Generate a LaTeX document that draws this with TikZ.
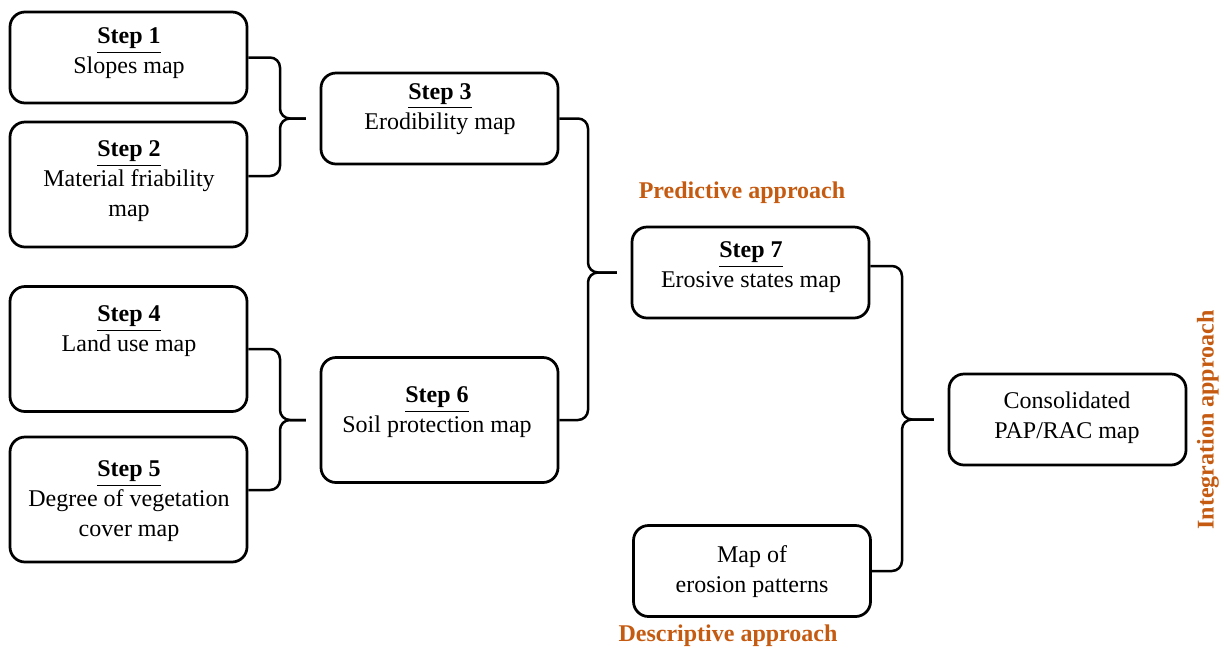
\documentclass[tikz,border=0pt]{standalone}
\usepackage{fontspec}
\setmainfont{Liberation Serif}
\definecolor{approach}{HTML}{C55A11}
\newcommand{\stepname}[1]{\underline{\textbf{#1}}}
\begin{document}
\begin{tikzpicture}[x=0.4pt, y=-0.4pt,
    box/.style={draw, line width=1.1pt, rounded corners=6pt, minimum width=94.8pt, minimum height=36.4pt},
    tallbox/.style={box, minimum height=50pt},
    boxtext/.style={align=center, inner sep=0pt, yshift=-1.2pt, font=\fontsize{9.6}{12}\selectfont},
    approachtext/.style={text=approach, font=\fontsize{9.6}{12}\selectfont\bfseries},
    bracket/.style={line width=1pt, rounded corners=4pt, shorten >=5.5pt}]
    \useasboundingbox (0,0) rectangle (1224,648);

    % Boxes
    \node[box] (s1) at (128.5,57.5) {};
    \node[tallbox] (s2) at (128.5,184.5) {};
    \node[box] (s3) at (439.5,118.5) {};
    \node[tallbox] (s4) at (128.5,349) {};
    \node[tallbox] (s5) at (128.5,499.5) {};
    \node[tallbox] (s6) at (439.5,420) {};
    \node[box] (s7) at (750.5,272.5) {};
    \node[box] (ep) at (752,571) {};
    \node[box] (pap) at (1067.5,419.5) {};

    % Texts in the boxes
    \node[boxtext] (s1t) at (129,50) {\stepname{Step 1}\\Slopes map};
    \node[boxtext] (s2t) at (129,178) {\stepname{Step 2}\\Material friability\\map};
    \node[boxtext] (s3t) at (440,106) {\stepname{Step 3}\\Erodibility map};
    \node[boxtext] (s4t) at (129,328) {\stepname{Step 4}\\Land use map};
    \node[boxtext] (s5t) at (129,498) {\stepname{Step 5}\\Degree of vegetation\\cover map};
    \node[boxtext] (s6t) at (437,409) {\stepname{Step 6}\\Soil protection map};
    \node[boxtext] (s7t) at (751,264.5) {\stepname{Step 7}\\Erosive states map};
    \node[boxtext] (ept) at (752,568.5) {Map of\\erosion patterns};
    \node[boxtext] (papt) at (1067,414.5) {Consolidated\\PAP/RAC map};

    % Brackets
    \coordinate (b1) at (280,0);
    \coordinate (b2) at (588,0);
    \coordinate (b3) at (902,0);
    \draw[bracket] (s1.east) -| (s3.west -| b1) -- (s3.west);
    \draw[bracket] ([yshift=3.4pt]s2.east) -| (s3.west -| b1) -- (s3.west);
    \draw[bracket] (s4.east) -| (s6.west -| b1) -- (s6.west);
    \draw[bracket] ([yshift=3.8pt]s5.east) -| (s6.west -| b1) -- (s6.west);
    \draw[bracket] (s3.east) -| (s7.west -| b2) -- (s7.west);
    \draw[bracket] (s6.east) -| (s7.west -| b2) -- (s7.west);
    \draw[bracket] ([yshift=2.6pt]s7.east) -| (pap.west -| b3) -- (pap.west);
    \draw[bracket] (ep.east) -| (pap.west -| b3) -- (pap.west);

    % Approaches
    \node[approachtext] (pred) at (742,193) {Predictive approach};
    \node[approachtext] (desc) at (728,636) {Descriptive approach};
    \node[approachtext, rotate=90] (integ) at (1208,420) {Integration approach};
\end{tikzpicture}
\end{document}
